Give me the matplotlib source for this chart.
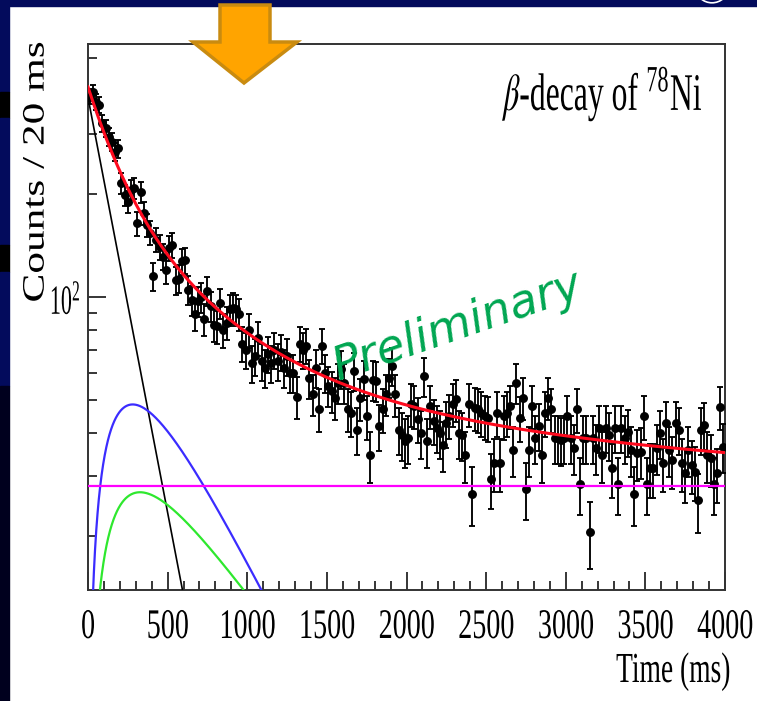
import numpy as np
import matplotlib
matplotlib.use("Agg")
import matplotlib.pyplot as plt
from matplotlib import transforms
from matplotlib.patheffects import AbstractPathEffect
from matplotlib.patches import Polygon, Rectangle, Circle

# ---------------------------------------------------------------- data
# counts per 20 ms bin, bins start at 0 ms
counts = [
    385, 398, 372, 364, 322, 311, 294, 284, 266, 272,
    215, 199, 190, 206, 208, 164, 203, 176, 162, 154,
    115, 147, 140, 131, 120, 139, 142, 112, 113, 127,
    128, 105, 98, 89, 97, 100, 86, 104, 94, 83,
    82, 96, 80, 84, 92, 93, 92, 89, 73, 70,
    80, 64, 67, 76, 65, 62, 68, 64, 70, 65,
    69, 62, 67, 60, 60, 51, 73, 70, 72, 58,
    52, 62, 47, 72, 60, 55, 53.1, 50.7, 56, 61.5,
    56, 47, 45.8, 60.8, 40.9, 50.5, 57.4, 44.8, 34.5, 57.2,
    56.8, 41.8, 46.9, 52, 58.1, 62.9, 51.9, 40.9, 39.5, 37.8,
    38.6, 48.5, 47.9, 44, 40.0, 58.8, 37.8, 47.9, 43.5, 41.4,
    40.0, 36.9, 42.8, 45, 48.5, 50.2, 40.0, 39.5, 34.5, 48.5,
    26.6, 47.4, 46.9, 45.8, 44.8, 44.3, 29.4, 32.6, 45.8, 32.6,
    44.8, 45.8, 47.9, 35.7, 56.2, 44.3, 50.7, 27.5, 35.7, 47.9,
    38.6, 42, 34.5, 45.8, 50.7, 46.9, 38.6, 38.6, 38.2, 38.6,
    44.8, 38.6, 36.1, 46.9, 28.4, 38.6, 38.6, 20.6, 38.6, 36.1,
    41.4, 34.5, 41.4, 39.5, 31.5, 41.4, 28.4, 41.4, 38.6, 40.4,
    35.7, 26.6, 34.9, 35.3, 44.8, 28.4, 31.5, 31.5, 36.1, 40.0,
    32.6, 42.8, 35.7, 33.3, 42.8, 40.9, 32.6, 30.5, 35.7, 32.2,
    30.8, 25.4, 40.9, 42.3, 34.5, 33.7, 28.4, 30.5, 47.6, 36.5,
]
bin_width_ms = 20

# fit parameters (half-lives in ms, amplitudes in counts / 20 ms)
half_life_parent = 124.0        # 78Ni
half_life_daughter = 330.0      # 78Cu
half_life_bn_daughter = 480.0   # 77Cu
half_life_granddaughter = 1700.0
amp_parent = 383.0
amp_daughter = 140.0
amp_bn_daughter = 58.0
amp_granddaughter = 35.0
background = 28.0

x_ticks = [0, 500, 1000, 1500, 2000, 2500, 3000, 3500, 4000]
y_major = [100]
y_minor = [20, 30, 40, 50, 60, 70, 80, 90, 200, 300, 400, 500]

# ---------------------------------------------------------------- helpers
W, H = 757, 701
SERIF = "Liberation Serif"
plt.rcParams["mathtext.fontset"] = "stix"


def fx(px):
    return px / W


def fy(py):
    return 1 - py / H


class Stretch(AbstractPathEffect):
    """Draw text glyphs rescaled in display x / y around an anchor.

    ax_frac picks the horizontal anchor inside the glyph extents;
    the vertical anchor is the baseline, or the extents centre when
    centre_y is set.
    """

    def __init__(self, sx=1.0, sy=1.0, ax_frac=0.5, centre_y=False):
        super().__init__()
        self.sx, self.sy = sx, sy
        self.ax_frac = ax_frac
        self.centre_y = centre_y

    def draw_path(self, renderer, gc, tpath, affine, rgbFace=None):
        ext = tpath.get_extents(affine)
        x0 = ext.x0 + self.ax_frac * (ext.x1 - ext.x0)
        if self.centre_y:
            y0 = 0.5 * (ext.y0 + ext.y1)
        else:
            y0 = affine.get_matrix()[1, 2]
        tr = affine + transforms.Affine2D().translate(-x0, -y0).scale(
            self.sx, self.sy).translate(x0, y0)
        renderer.draw_path(gc, tpath, tr, rgbFace)


fig = plt.figure(figsize=(W / 100, H / 100), dpi=100)
fig.patch.set_facecolor("white")

# slide frame: left strip and top band
NAVY, DARK = "#030b5c", "#000000"
strip = [(0, 92, NAVY), (92, 118, DARK), (118, 245, NAVY),
         (245, 272, DARK), (272, 386, NAVY), (386, 701, "#00001e")]
for y_top, y_bot, col in strip:
    fig.add_artist(Rectangle((0, fy(y_bot)), fx(9), (y_bot - y_top) / H,
                             transform=fig.transFigure, color=col, zorder=0))
fig.add_artist(Rectangle((0, fy(6)), 1, 6 / H, transform=fig.transFigure,
                         color=NAVY, zorder=0))
fig.add_artist(Circle((fx(712), fy(-12)), 16 / W, transform=fig.transFigure,
                      facecolor="none", edgecolor="white", lw=1.2, zorder=1))

ax = fig.add_axes([fx(88), fy(590), fx(725) - fx(88), fy(44) - fy(590)])
ax.set_facecolor("white")

time_ms = np.arange(len(counts)) * bin_width_ms + bin_width_ms / 2
counts_arr = np.array(counts, dtype=float)
ax.errorbar(time_ms, counts_arr, yerr=np.sqrt(counts_arr), fmt="o",
            color="black", ms=5.4, elinewidth=1.35, capsize=2.4,
            capthick=1.35, zorder=3)

# fit components
t = np.linspace(0, 4000, 4001)
l_p = np.log(2) / half_life_parent
l_d = np.log(2) / half_life_daughter
l_n = np.log(2) / half_life_bn_daughter
l_g = np.log(2) / half_life_granddaughter
parent = amp_parent * np.exp(-l_p * t)
daughter = amp_daughter * (np.exp(-l_d * t) - np.exp(-l_p * t))
bn_daughter = amp_bn_daughter * (np.exp(-l_n * t) - np.exp(-l_p * t))
granddaughter = amp_granddaughter * (np.exp(-l_g * t) - np.exp(-l_d * t))
total = parent + daughter + bn_daughter + granddaughter + background


def positive(y):
    return np.where(y > 0, y, np.nan)


ax.plot(t, positive(parent), color="black", lw=1.2, zorder=4)
ax.plot(t, positive(daughter), color="#3b2cff", lw=1.6, zorder=4)
ax.plot(t, positive(bn_daughter), color="#2ee82e", lw=1.6, zorder=4)
ax.plot(t, np.full_like(t, background), color="#ff00ff", lw=1.6, zorder=4)
ax.plot(t, total, color="#ff0a1e", lw=2.2, zorder=5)

ax.set_xlim(0, 4000)
ax.set_yscale("log")
ax.set_ylim(13.9, 549)
ax.set_xticks(x_ticks)
ax.set_xticks(np.arange(0, 4001, 100), minor=True)
ax.set_yticks(y_major)
ax.set_yticks(y_minor, minor=True)
ax.tick_params(which="both", direction="in", top=False, right=False,
               labelbottom=False, labelleft=False, width=1.1, color="black")
ax.tick_params(which="major", length=13)
ax.tick_params(which="minor", length=6.5)
for s in ax.spines.values():
    s.set_linewidth(1.4)
    s.set_color("#333333")

# axis labels (narrow, tall serif lettering)
tick_tr = transforms.offset_copy(ax.get_xaxis_transform(), fig=fig,
                                 x=0, y=-48, units="dots")
for v in x_ticks:
    ax.text(v, 0, str(v), transform=tick_tr, ha="center", va="baseline",
            family=SERIF, fontsize=22,
            path_effects=[Stretch(0.92, 1.38, 0.5)])

fig.text(fx(81), fy(314), r"$\mathregular{10^{2}}$", ha="right",
         va="baseline", family=SERIF, fontsize=22,
         path_effects=[Stretch(0.72, 1.36, 1.0)])
fig.text(fx(730), fy(682), "Time (ms)", ha="right", va="baseline",
         family=SERIF, fontsize=22,
         path_effects=[Stretch(0.9, 1.4, 1.0)])
fig.text(fx(36), fy(172), "Counts / 20 ms", rotation=90, ha="center",
         va="center", family=SERIF, fontsize=20,
         path_effects=[Stretch(1.12, 1.56, 0.5, centre_y=True)])
fig.text(fx(705), fy(110), r"$\beta$-decay of $^{\mathregular{78}}$Ni",
         ha="right", va="baseline", family=SERIF, fontsize=38,
         path_effects=[Stretch(0.6, 1.0, 1.0)])

fig.text(fx(458), fy(326), "Preliminary", rotation=19,
         rotation_mode="anchor", ha="center", va="center",
         color="#00a651", fontsize=33, family="DejaVu Sans", style="italic")

# highlight arrow
arrow_px = [(220, 5), (270, 5), (270, 42), (297, 42), (244, 83),
            (193, 42), (220, 42)]
fig.add_artist(Polygon([(fx(x), fy(y)) for x, y in arrow_px], closed=True,
                       transform=fig.transFigure, facecolor="#ffa400",
                       edgecolor="#c98b10", lw=2.5, zorder=10))

fig.savefig("out.png", dpi=100, facecolor=fig.get_facecolor())
